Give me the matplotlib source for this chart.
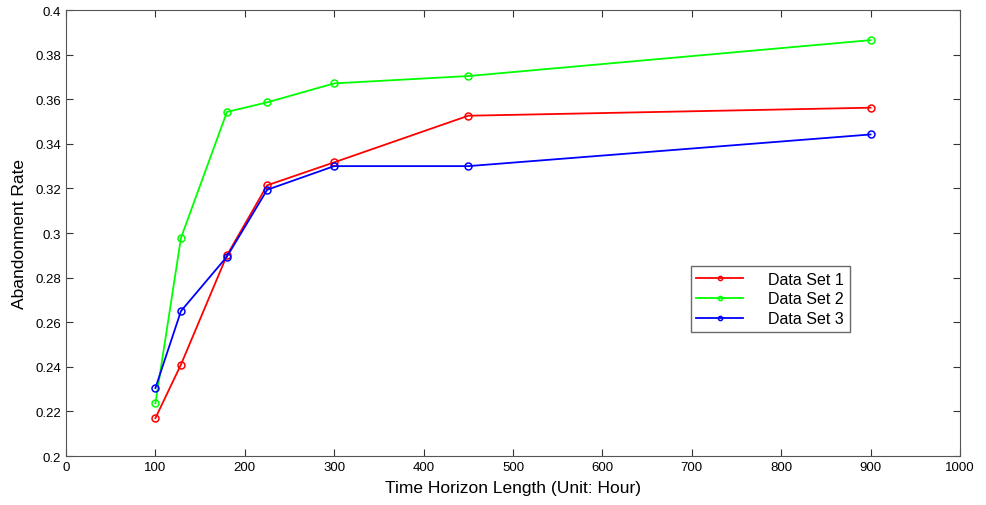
import numpy as np
import matplotlib
matplotlib.use('Agg')
from matplotlib import pyplot as plt

plt.rcParams['font.family'] = ['Liberation Sans', 'DejaVu Sans']

hours = [100, 900 / 7, 180, 225, 300, 450, 900]
set1 = [0.217, 0.241, 0.290, 0.3214, 0.3317, 0.3526, 0.3562]
set2 = [0.2236, 0.2978, 0.3543, 0.3586, 0.3671, 0.3704, 0.3865]
set3 = [0.2305, 0.265, 0.2894, 0.3194, 0.3300, 0.3300, 0.3442]
names = ['Data Set 1', 'Data Set 2', 'Data Set 3']
colors = ['#ff0000', '#00ff00', '#0000ff']

fig = plt.figure(figsize=(9.87, 5.06), dpi=100)
ax = fig.add_axes([0.0669, 0.0968, 0.9057, 0.8814])

for ys, name, c in zip([set1, set2, set3], names, colors):
  ax.plot(hours, ys, color=c, lw=1.3, marker='o', ms=5, mfc='none', mew=1.1, label=name)

ax.set_xlim(0, 1000)
ax.set_ylim(0.2, 0.4)
ax.set_xticks(np.arange(0, 1001, 100))
ax.set_yticks(np.arange(0.2, 0.401, 0.02))
ax.set_yticklabels(['0.2', '0.22', '0.24', '0.26', '0.28', '0.3', '0.32', '0.34', '0.36', '0.38', '0.4'])
ax.tick_params(direction='in', top=True, right=True, labelsize=9.5, length=5, color='#333333')
for s in ax.spines.values():
  s.set_color('#555555')
ax.set_xlabel('Time Horizon Length (Unit: Hour)', fontsize=12.5, labelpad=5)
ax.set_ylabel('Abandonment Rate', fontsize=12.5, labelpad=6)

leg = ax.legend(loc='upper left', bbox_to_anchor=(0.699, 0.426), fontsize=11.5, frameon=True,
                fancybox=False, edgecolor='#444444', handlelength=2.9, handletextpad=1.6,
                labelspacing=0.3, borderpad=0.35, borderaxespad=0, markerscale=0.6)
leg.get_frame().set_linewidth(1.0)

fig.savefig('out.png', dpi=100)
